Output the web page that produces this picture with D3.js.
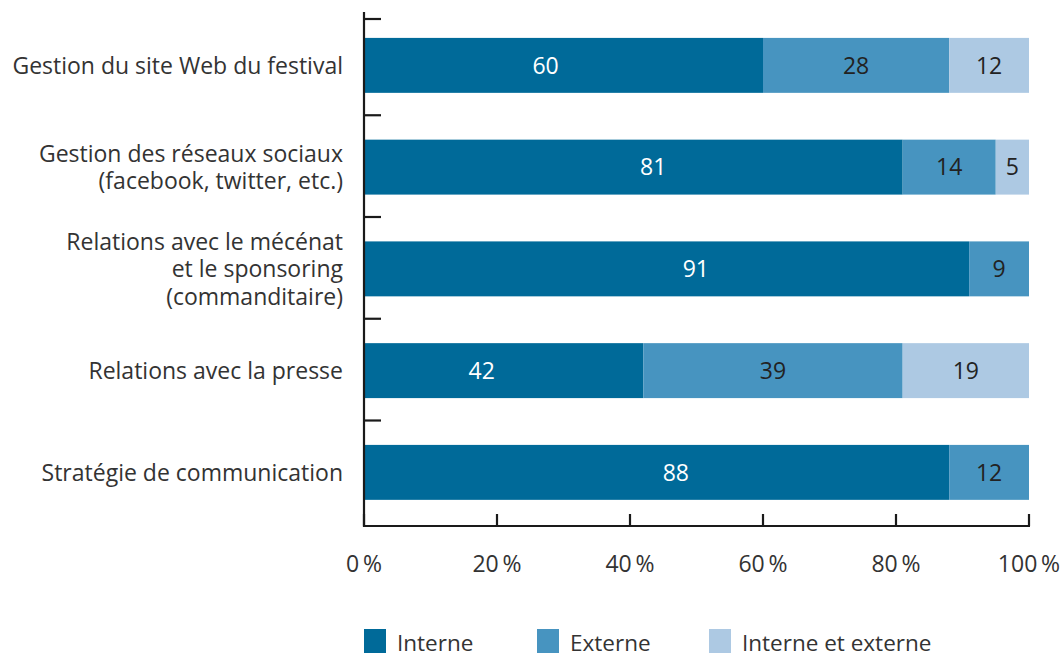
<!DOCTYPE html>
<html><head><meta charset="utf-8">
<script src="https://cdn.jsdelivr.net/npm/d3@7"></script>
<style>body{margin:0;background:#fff}svg text{font-family:"Open Sans",sans-serif;}</style>
</head><body>
<svg id="c" width="1064" height="653"></svg>
<script>
const categories = [
  ["Gestion du site Web du festival"],
  ["Gestion des réseaux sociaux", "(facebook, twitter, etc.)"],
  ["Relations avec le mécénat", "et le sponsoring", "(commanditaire)"],
  ["Relations avec la presse"],
  ["Stratégie de communication"]
];
const seriesNames = ["Interne", "Externe", "Interne et externe"];
const interne = [60, 81, 91, 42, 88];
const externe = [28, 14, 9, 39, 12];
const interneExterne = [12, 5, 0, 19, 0];
const xTicks = [0, 20, 40, 60, 80, 100];

// layout / style (not data)
const colors = ["#006a99", "#4794c0", "#adc9e3"];
const labelColors = ["#ffffff", "#222222", "#222222"];
const interneLabelAt = [27.3, 43.5, 49.9, 17.7, 46.9]; // label anchor (x-scale units) as placed in the reference

const svg = d3.select("#c");
const x = d3.scaleLinear().domain([0, 100]).range([364, 1029]);
const y = d3.scaleBand().domain(d3.range(categories.length)).range([14.5, 523.25]).paddingInner(0.46).paddingOuter(0.23);

const rows = categories.map((c, i) => ({i, vals: [interne[i], externe[i], interneExterne[i]]}));
const segs = [];
rows.forEach(r => { let acc = 0; r.vals.forEach((v, s) => { segs.push({i: r.i, s, x0: acc, x1: acc + v, v}); acc += v; }); });

svg.selectAll("rect.bar").data(segs.filter(d => d.v > 0)).join("rect")
  .attr("x", d => x(d.x0)).attr("width", d => x(d.x1) - x(d.x0))
  .attr("y", d => y(d.i)).attr("height", y.bandwidth())
  .attr("fill", d => colors[d.s]);

svg.selectAll("text.val").data(segs.filter(d => d.v > 0)).join("text")
  .attr("x", d => d.s === 0 ? x(interneLabelAt[d.i]) : (x(d.x0) + x(d.x1)) / 2)
  .attr("y", d => y(d.i) + y.bandwidth() / 2)
  .attr("dy", "0.36em").attr("text-anchor", "middle").attr("font-size", 23)
  .attr("fill", d => labelColors[d.s]).text(d => d.v);

// axes
const ax = svg.append("g").attr("stroke", "#1a1a1a").attr("stroke-width", 2.2).attr("fill", "none");
ax.append("line").attr("x1", 364).attr("x2", 364).attr("y1", 12).attr("y2", 527);
ax.append("line").attr("x1", 363).attr("x2", 1030).attr("y1", 526).attr("y2", 526);
d3.range(categories.length).forEach(i => {
  const yy = i === 0 ? 19 : y(i) - y.step() * y.paddingInner() / 2 - 1;
  ax.append("line").attr("x1", 364).attr("x2", 381).attr("y1", yy).attr("y2", yy);
});
xTicks.forEach(t => {
  ax.append("line").attr("x1", x(t)).attr("x2", x(t)).attr("y1", 526).attr("y2", 514);
});
svg.selectAll("text.xt").data(xTicks).join("text")
  .attr("x", d => x(d)).attr("y", 572).attr("text-anchor", "middle")
  .attr("font-size", 23).attr("fill", "#333").text(d => d + "\u2009%");

// category labels
const cl = svg.selectAll("text.cat").data(categories).join("text")
  .attr("text-anchor", "end").attr("font-size", 23).attr("fill", "#333")
  .attr("transform", (d, i) => `translate(343,${y(i) + y.bandwidth() / 2})`);
cl.selectAll("tspan").data(d => d.map((t, k) => ({t, k, n: d.length}))).join("tspan")
  .attr("x", 0).attr("y", d => (d.k - (d.n - 1) / 2) * 27.5).attr("dy", "0.36em").text(d => d.t);

// legend
const legX = [364, 537, 709];
const lg = svg.selectAll("g.leg").data(seriesNames).join("g").attr("transform", (d, i) => `translate(${legX[i]},629)`);
lg.append("rect").attr("width", 22).attr("height", 24).attr("fill", (d, i) => colors[i]);
lg.append("text").attr("x", 33).attr("y", 22).attr("font-size", 22.5).attr("fill", "#333").text(d => d);
</script>
</body></html>
